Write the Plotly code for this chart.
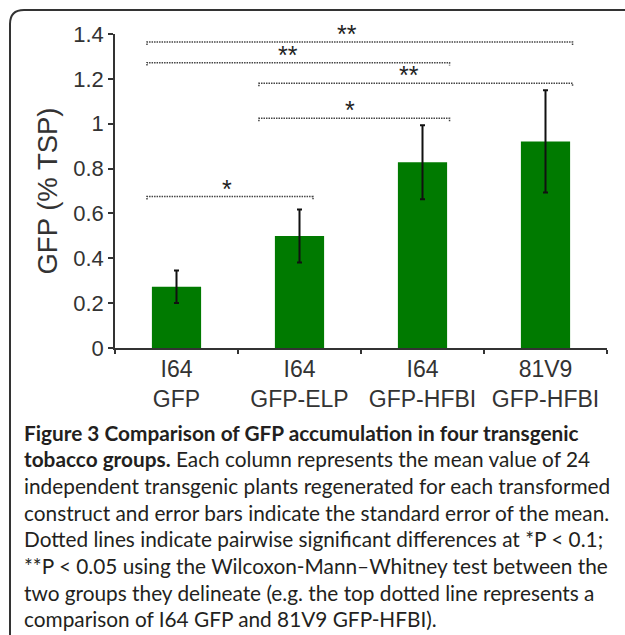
import plotly.graph_objects as go

# ---- data ----
categories = ["I64<br>GFP", "I64<br>GFP-ELP", "I64<br>GFP-HFBI", "81V9<br>GFP-HFBI"]
means = [0.273, 0.499, 0.828, 0.921]
sem = [0.072, 0.118, 0.165, 0.228]

# significance brackets (category index positions, y level, label)
bracket_start = [-0.24, -0.24, 0.67, 0.67, -0.24]
bracket_end = [3.22, 2.22, 3.22, 2.22, 1.11]
bracket_y = [1.364, 1.272, 1.18, 1.024, 0.675]
bracket_label = ["**", "**", "**", "*", "*"]
bracket_label_x = [1.39, 0.91, 1.89, 1.41, 0.41]

y_ticks = [0, 0.2, 0.4, 0.6, 0.8, 1, 1.2, 1.4]

caption_lines = [
    "<b>Figure 3 Comparison of GFP accumulation in four transgenic</b>",
    "<b>tobacco groups.</b> Each column represents the mean value of 24",
    "independent transgenic plants regenerated for each transformed",
    "construct and error bars indicate the standard error of the mean.",
    "Dotted lines indicate pairwise significant differences at *P < 0.1;",
    "**P < 0.05 using the Wilcoxon-Mann–Whitney test between the",
    "two groups they delineate (e.g. the top dotted line represents a",
    "comparison of I64 GFP and 81V9 GFP-HFBI).",
]

W, H = 625, 635
L, R, T, B = 115, 18, 34, 287
pw, ph = W - L - R, H - T - B


def px_x(x):
    return (x - L) / pw


def px_y(y):
    return (H - B - y) / ph


fig = go.Figure()
fig.add_trace(go.Bar(
    x=categories, y=means, width=0.4,
    marker=dict(color="#007a00", line=dict(width=0)),
    error_y=dict(type="data", array=sem, visible=True, color="#111111",
                 thickness=2, width=2.5),
))

shapes = []
annotations = []
tick = 0.013
for x0, x1, yb, lab, lx in zip(bracket_start, bracket_end, bracket_y,
                               bracket_label, bracket_label_x):
    path = f"M {x0},{yb - tick} L {x0},{yb} L {x1},{yb} L {x1},{yb - tick}"
    shapes.append(dict(type="path", xref="x", yref="y", path=path,
                       line=dict(color="#444444", width=1.5, dash="1.5px,1px")))
    annotations.append(dict(x=lx, y=yb, xref="x", yref="y",
                            text=lab, showarrow=False, yanchor="bottom",
                            yshift=-8,
                            font=dict(family="Liberation Sans, Arial", size=25, color="#222222")))

# border (rounded top-left corner, continuing beyond right and bottom edges)
bx, by, rad = 10, 10, 14
x0p, y0p = px_x(bx), px_y(by)
border = (f"M {x0p},{px_y(H + 10)} L {x0p},{px_y(by + rad)} "
          f"Q {x0p},{y0p} {px_x(bx + rad)},{y0p} L {px_x(W + 10)},{y0p}")
shapes.append(dict(type="path", xref="paper", yref="paper", path=border,
                   line=dict(color="#333333", width=2)))

cap_y0 = 432
cap_dy = 26.7
for i, line in enumerate(caption_lines):
    annotations.append(dict(
        x=px_x(22), y=px_y(cap_y0 + i * cap_dy), xref="paper", yref="paper",
        text=line, showarrow=False, xanchor="left", yanchor="middle",
        font=dict(family="Lato, Open Sans, sans-serif", size=20.8,
                  color="#231f20"),
    ))

fig.update_layout(
    width=W, height=H,
    margin=dict(l=L, r=R, t=T, b=B, autoexpand=False),
    paper_bgcolor="white", plot_bgcolor="white",
    showlegend=False,
    shapes=shapes,
    annotations=annotations,
    xaxis=dict(
        type="category", range=[-0.5, 3.5], tickson="boundaries",
        ticks="outside", ticklen=4, tickcolor="#333333", tickwidth=1.5,
        showline=True, linecolor="#333333", linewidth=1.5,
        showgrid=False, zeroline=False,
        tickfont=dict(family="Liberation Sans, Arial", size=23, color="#333333"),
    ),
    yaxis=dict(
        range=[0, 1.4], tickvals=y_ticks,
        ticks="outside", ticklen=5, tickcolor="#333333", tickwidth=1.5,
        showline=True, linecolor="#333333", linewidth=1.5,
        showgrid=False, zeroline=False,
        tickfont=dict(family="Liberation Sans, Arial", size=22, color="#333333"),
        title=dict(text="GFP (% TSP)", standoff=8,
                   font=dict(family="Liberation Sans, Arial", size=27.5, color="#333333")),
    ),
)

fig.write_html(
    "out.html",
    config={"displayModeBar": False},
    post_script="document.body.style.margin='0';document.body.style.padding='0';",
)
